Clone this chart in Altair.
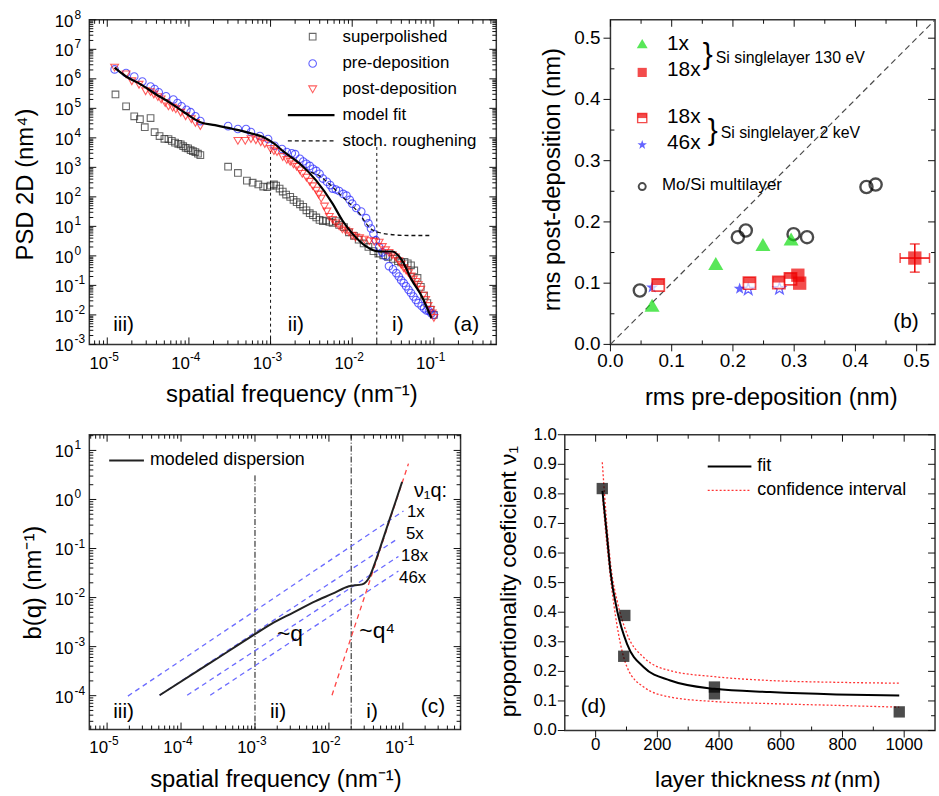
import altair as alt
import pandas as pd

FONT = "Liberation Sans"
INK = "#111111"
RED = "#ff1a1a"
BLUE = "#2222ff"
GREEN = "#11dd11"

# ---------------- panel (a): PSD data ----------------
SP_Q = [1.26e-5, 1.70e-5, 2.14e-5, 2.51e-5, 2.88e-5, 3.39e-5, 3.80e-5, 4.37e-5, 5.01e-5, 5.62e-5,
        6.17e-5, 6.76e-5, 7.41e-5, 7.94e-5, 8.51e-5, 9.12e-5, 9.77e-5, 1.05e-4, 1.12e-4, 1.20e-4,
        1.29e-4, 1.38e-4,
        3.02e-4, 3.98e-4, 5.13e-4, 6.03e-4, 7.08e-4, 8.13e-4, 9.12e-4, 1.00e-3,
        1.10e-3, 1.17e-3, 1.29e-3, 1.41e-3, 1.55e-3, 1.74e-3, 1.91e-3, 2.09e-3, 2.29e-3, 2.51e-3,
        2.75e-3, 3.02e-3, 3.31e-3, 3.63e-3, 3.98e-3, 4.37e-3, 4.79e-3, 5.25e-3, 5.75e-3, 6.31e-3,
        6.92e-3, 7.94e-3, 9.12e-3, 1.05e-2, 1.20e-2, 1.38e-2, 1.58e-2, 1.82e-2, 2.09e-2, 2.40e-2,
        2.75e-2, 3.16e-2, 3.63e-2, 3.98e-2, 4.37e-2, 4.79e-2, 5.25e-2, 5.75e-2, 6.31e-2, 6.92e-2,
        7.59e-2, 8.32e-2, 9.12e-2, 1.00e-1]
SP_PSD = [2.95e5, 1.17e5, 5.37e4, 4.27e4, 2.29e4, 4.68e4, 1.55e4, 1.15e4, 9.3e3, 9.1e3,
          7.9e3, 6.9e3, 6.3e3, 6.0e3, 5.2e3, 4.6e3, 4.4e3, 3.8e3, 3.55e3, 3.3e3,
          2.9e3, 2.6e3,
          1.05e3, 646, 355, 302, 263, 224, 214, 240,
          263, 240, 191, 151, 120, 100, 79, 66, 56, 46,
          35, 28, 24, 20, 16.6, 15.1, 15.8, 14.1, 13.2, 15.1,
          11.2, 9.5, 6.3, 4.8, 3.55, 2.63, 2.0, 1.45, 1.2, 1.05,
          0.93, 0.79, 0.66, 0.60, 0.63, 0.56, 0.48, 0.32, 0.178, 0.089,
          0.045, 0.025, 0.0151, 0.010]

PRE_Q = [1.23e-5, 1.70e-5, 2.14e-5, 2.69e-5, 3.39e-5, 3.80e-5, 4.27e-5, 5.25e-5, 6.46e-5, 7.24e-5,
         8.13e-5, 9.33e-5, 1.05e-4, 1.20e-4, 1.38e-4,
         3.02e-4, 3.98e-4, 5.01e-4, 5.75e-4, 7.41e-4, 9.33e-4, 1.12e-3, 1.38e-3, 1.58e-3, 1.82e-3,
         2.0e-3, 2.29e-3, 2.51e-3, 2.75e-3, 3.02e-3, 3.31e-3, 3.63e-3, 3.98e-3, 4.37e-3, 4.9e-3,
         5.37e-3, 5.75e-3, 6.31e-3, 6.92e-3, 7.76e-3, 8.51e-3, 9.33e-3, 1.0e-2, 1.12e-2, 1.29e-2,
         1.48e-2, 1.58e-2, 1.70e-2, 1.82e-2, 1.95e-2, 2.14e-2, 2.34e-2, 2.57e-2, 2.82e-2, 3.16e-2,
         3.47e-2, 3.72e-2, 3.98e-2, 4.27e-2, 4.57e-2, 4.9e-2, 5.25e-2, 5.62e-2, 6.03e-2, 6.46e-2,
         7.08e-2, 7.59e-2, 8.13e-2, 8.71e-2, 9.33e-2, 1.0e-1]
PRE_PSD = [2.09e6, 1.58e6, 1.20e6, 8.1e5, 5.5e5, 4.5e5, 3.5e5, 2.57e5, 2.0e5, 1.51e5,
           1.17e5, 8.9e4, 7.4e4, 5.4e4, 3.7e4,
           2.5e4, 2.0e4, 2.0e4, 1.58e4, 1.15e4, 9.1e3, 5.4e3, 4.2e3, 3.3e3, 3.0e3,
           2.8e3, 1.95e3, 1.58e3, 1.32e3, 1.12e3, 891, 759, 603, 417, 324,
           251, 191, 178, 158, 126, 110, 79, 59, 42, 32,
           19, 12.6, 8.5, 5.6, 3.4, 2.0, 1.32, 0.98, 0.45, 0.35,
           0.26, 0.20, 0.15, 0.12, 0.093, 0.071, 0.055, 0.042, 0.032, 0.025,
           0.020, 0.0166, 0.0141, 0.0135, 0.0112, 0.010]

POST_Q = [1.23e-5, 1.70e-5, 2.0e-5, 2.45e-5, 2.95e-5, 3.39e-5, 3.72e-5, 4.17e-5, 4.57e-5, 5.13e-5,
          5.62e-5, 6.31e-5, 6.92e-5, 7.94e-5, 9.12e-5, 1.07e-4, 1.20e-4, 1.38e-4,
          3.98e-4, 4.9e-4, 5.75e-4, 6.61e-4, 7.59e-4, 8.51e-4, 1.0e-3, 1.10e-3, 1.20e-3, 1.41e-3,
          1.58e-3, 1.74e-3, 1.91e-3, 2.09e-3, 2.29e-3, 2.45e-3, 2.75e-3, 3.02e-3, 3.31e-3, 3.63e-3,
          3.89e-3, 4.17e-3, 4.57e-3, 4.9e-3, 5.25e-3, 5.75e-3, 6.31e-3, 6.92e-3, 7.59e-3, 8.32e-3,
          9.12e-3, 1.0e-2, 1.10e-2, 1.23e-2, 1.41e-2, 1.62e-2, 1.86e-2, 2.14e-2, 2.34e-2, 2.57e-2,
          2.82e-2, 3.09e-2, 3.39e-2, 3.72e-2, 3.98e-2, 4.27e-2, 4.57e-2, 4.9e-2, 5.25e-2, 5.62e-2,
          6.03e-2, 6.46e-2, 6.92e-2, 7.41e-2, 7.94e-2, 8.51e-2, 9.12e-2, 9.55e-2, 1.0e-1]
POST_PSD = [2.4e6, 1.41e6, 8.3e5, 6.3e5, 3.8e5, 3.55e5, 2.95e5, 2.4e5, 2.0e5, 1.51e5,
            1.17e5, 1.05e5, 9.3e4, 7.1e4, 5.4e4, 4.3e4, 3.2e4, 2.5e4,
            7.9e3, 7.9e3, 9.1e3, 8.3e3, 7.1e3, 6.2e3, 4.2e3, 3.55e3, 3.3e3, 2.24e3,
            1.78e3, 1.55e3, 1.26e3, 1.05e3, 794, 603, 447, 324, 229, 162,
            120, 87, 47, 32, 21, 16.6, 12.6, 10, 7.9, 7.1,
            6.3, 4.8, 4.2, 4.0, 3.55, 3.16, 3.0, 2.8, 2.0, 1.55,
            1.26, 1.05, 0.89, 0.66, 0.50, 0.38, 0.32, 0.26, 0.20, 0.158,
            0.132, 0.102, 0.071, 0.045, 0.032, 0.020, 0.0148, 0.0112, 0.0079]

FIT_Q = [1.23e-5, 1.70e-5, 2.57e-5, 3.98e-5, 6.03e-5, 9.12e-5, 1.38e-4, 2.09e-4, 3.47e-4, 5.62e-4,
         8.13e-4, 1.12e-3, 1.41e-3, 2.29e-3, 3.63e-3, 5.75e-3, 7.59e-3, 1.0e-2, 1.48e-2, 2.14e-2,
         3.09e-2, 4.07e-2, 5.37e-2, 7.08e-2, 9.33e-2]
FIT_PSD = [2.4e6, 1.2e6, 6.5e5, 2.95e5, 1.48e5, 6.8e4, 3.4e4, 2.7e4, 2.0e4, 1.45e4,
           1.07e4, 6.2e3, 3.6e3, 1.32e3, 355, 59, 15.8, 5.8, 2.1, 1.41,
           1.41, 0.71, 0.151, 0.044, 0.0079]

STOCH_Q = [2.29e-3, 2.75e-3, 3.98e-3, 5.25e-3, 6.92e-3, 9.33e-3, 1.23e-2, 1.48e-2, 1.74e-2, 2.14e-2,
           2.82e-2, 3.72e-2, 5.62e-2, 9.33e-2]
STOCH_PSD = [1.32e3, 832, 513, 275, 129, 59, 27, 12.6, 7.8, 6.2, 5.4, 5.0, 4.9, 4.9]

VLINE_A_Q = [1e-3, 2e-2]
VLINE_A_TOP = [3.6e3, 4.9e3]
VLINE_A_BOTTOM = [1e-3, 1e-3]

LEGEND_A = ["superpolished", "pre-deposition", "post-deposition", "model fit", "stoch. roughening"]
REGIONS = ["iii)", "ii)", "i)"]

# ---------------- panel (b): rms data ----------------
MOSI_PRE = [0.048, 0.208, 0.221, 0.299, 0.321, 0.418, 0.433]
MOSI_POST = [0.088, 0.175, 0.186, 0.180, 0.175, 0.257, 0.261]
TRI_PRE = [0.068, 0.172, 0.249, 0.295]
TRI_POST = [0.064, 0.132, 0.163, 0.172]
SQ130_PRE = [0.306, 0.309, 0.497]
SQ130_POST = [0.113, 0.100, 0.141]
ERR_X = [0.024]
ERR_Y = [0.023]
HALF_PRE = [0.078, 0.227, 0.275, 0.294]
HALF_POST = [0.097, 0.100, 0.101, 0.107]
STAR_FILLED_PRE = [0.068, 0.211]
STAR_FILLED_POST = [0.093, 0.091]
STAR_OPEN_PRE = [0.225, 0.276]
STAR_OPEN_POST = [0.090, 0.091]
DIAG = [0.0, 0.53]
LEGEND_B = ["1x", "18x", "18x", "46x", "Mo/Si multilayer"]
GROUPS_B = ["Si singlelayer 130 eV", "Si singlelayer 2 keV"]

# ---------------- panel (c): dispersion ----------------
DISP_Q = [5.13e-5, 2.51e-4, 1.0e-3, 1.78e-3, 3.24e-3, 6.61e-3, 1.12e-2, 1.86e-2, 2.82e-2, 3.47e-2,
          4.27e-2, 5.25e-2, 6.46e-2, 7.94e-2, 9.77e-2]
DISP_B = [1.02e-4, 4.7e-4, 1.8e-3, 3.1e-3, 4.9e-3, 8.5e-3, 1.2e-2, 1.7e-2, 1.86e-2, 2.5e-2,
          5.5e-2, 0.138, 0.355, 0.89, 2.29]
NU_LABELS = ["1x", "5x", "18x", "46x"]
NU_Q0 = [1.91e-5, 5.13e-5, 1.21e-4, 2.48e-4]
NU_B0 = [9.8e-5, 1.02e-4, 1.02e-4, 1.02e-4]
NU_Q1 = [0.102, 8.71e-2, 8.71e-2, 8.71e-2]
NU_B1 = [0.582, 0.162, 6.9e-2, 3.47e-2]
Q4_Q = [1.10e-2, 0.119]
Q4_B = [1.02e-4, 5.37]
VLINE_C_Q = [1e-3, 2e-2]
VLINE_C_TOP = [3.1, 20.9]
VLINE_C_BOTTOM = [2.04e-5, 2.04e-5]

# ---------------- panel (d): coefficient ----------------
NT = [21.5, 94.6, 91.0, 385.0, 385.0, 984.0]
NU1 = [0.818, 0.389, 0.251, 0.147, 0.124, 0.063]
FITD_NT = [22, 37.6, 48, 70, 102, 156, 242, 385, 565, 780, 984]
FITD_NU = [0.81, 0.649, 0.538, 0.404, 0.292, 0.214, 0.169, 0.141, 0.130, 0.122, 0.118]
CIU_NT = [21.5, 37.6, 50, 70, 102, 156, 242, 385, 565, 780, 984]
CIU_NU = [0.907, 0.68, 0.55, 0.437, 0.326, 0.247, 0.202, 0.182, 0.169, 0.163, 0.160]
CIL_NT = [23, 37.6, 59, 80.6, 102, 156, 242, 385, 565, 780, 984]
CIL_NU = [0.78, 0.616, 0.426, 0.292, 0.214, 0.147, 0.113, 0.098, 0.091, 0.085, 0.079]
LEGEND_D = ["fit", "confidence interval"]

# ---------------- axis tick values ----------------
DECADES_X = [1e-5, 1e-4, 1e-3, 1e-2, 1e-1]
A_YMAJ = [1e-3, 1e-2, 1e-1, 1e0, 1e1, 1e2, 1e3, 1e4, 1e5, 1e6, 1e7, 1e8]
C_YMAJ = [1e-4, 1e-3, 1e-2, 1e-1, 1e0, 1e1]
B_MAJ = [0.0, 0.1, 0.2, 0.3, 0.4, 0.5]
B_MIN = [0.05, 0.15, 0.25, 0.35, 0.45]
D_XMAJ = [0, 200, 400, 600, 800, 1000]
D_XMIN = [100, 300, 500, 700, 900]
D_YMAJ = [0.0, 0.1, 0.2, 0.3, 0.4, 0.5, 0.6, 0.7, 0.8, 0.9, 1.0]
D_YMIN = [0.05, 0.15, 0.25, 0.35, 0.45, 0.55, 0.65, 0.75, 0.85, 0.95]

STAR = ("M0,-1L0.235,-0.324L0.951,-0.309L0.380,0.124L0.588,0.809L0,0.4L-0.588,0.809"
        "L-0.380,0.124L-0.951,-0.309L-0.235,-0.324Z")
TOP_HALF = "M-1,-1H1V0H-1Z"
EXPR_EXP = "toString(round(log(datum.v) / LN10))"


def log_minor(lo, hi):
    out = []
    for d in range(-7, 9):
        for k in range(2, 10):
            v = k * 10.0 ** d
            if lo < v < hi:
                out.append(v)
    return out


def ptext(txt, x, y, size, align="left", **kw):
    return alt.Chart(pd.DataFrame({"t": [txt]})).mark_text(
        align=align, baseline="middle", font=FONT, fontSize=size, color="black", **kw
    ).encode(text="t:N", x=alt.value(x), y=alt.value(y))


def psym(x, y, **kw):
    return alt.Chart(pd.DataFrame({"k": [0]})).mark_point(**kw).encode(x=alt.value(x), y=alt.value(y))


def pline(x0, x1, y, **kw):
    return alt.Chart(pd.DataFrame({"k": [0]})).mark_rule(**kw).encode(
        x=alt.value(x0), x2=alt.value(x1), y=alt.value(y))


def spacer(x, y):
    """Invisible 1px white rule that pins the layout bounds of a panel."""
    return pline(x, x + 1, y, color="white", strokeWidth=1)


def frame_ticks(xs, ys, W, H, xmaj, xmin, ymaj, ymin, out_major=False):
    """Tick marks on all four sides of the frame, placed through the scales."""
    layers = []
    for vals, L, is_major in ((xmaj, 7, True), (xmin, 4, False)):
        d = pd.DataFrame({"t": vals})
        bottom = (H, H + L) if (out_major and is_major) else (H, H - L)
        for y0, y1 in (bottom, (0, L)):
            layers.append(alt.Chart(d).mark_rule(color=INK, strokeWidth=1).encode(
                x=alt.X("t:Q", scale=xs, axis=None), y=alt.value(y0), y2=alt.value(y1)))
    for vals, L, is_major in ((ymaj, 7, True), (ymin, 4, False)):
        d = pd.DataFrame({"t": vals})
        left = (0, -L) if (out_major and is_major) else (0, L)
        for x0, x1 in (left, (W, W - L)):
            layers.append(alt.Chart(d).mark_rule(color=INK, strokeWidth=1).encode(
                y=alt.Y("t:Q", scale=ys, axis=None), x=alt.value(x0), x2=alt.value(x1)))
    return layers


def log_xlabels(vals, xs, ypix, fs=17, efs=12):
    base = alt.Chart(pd.DataFrame({"v": vals})).transform_calculate(e=EXPR_EXP)
    return [
        base.mark_text(text="10", align="right", baseline="middle", font=FONT, fontSize=fs,
                       color="black", dx=1).encode(x=alt.X("v:Q", scale=xs, axis=None), y=alt.value(ypix)),
        base.mark_text(align="left", baseline="middle", font=FONT, fontSize=efs, color="black",
                       dx=1).encode(x=alt.X("v:Q", scale=xs, axis=None), y=alt.value(ypix - 7), text="e:N"),
    ]


def log_ylabels(vals, ys, xpix, fs=17, efs=12):
    base = alt.Chart(pd.DataFrame({"v": vals})).transform_calculate(e=EXPR_EXP)
    return [
        base.mark_text(text="10", align="right", baseline="middle", font=FONT, fontSize=fs,
                       color="black", dy=2).encode(y=alt.Y("v:Q", scale=ys, axis=None), x=alt.value(xpix)),
        base.mark_text(align="left", baseline="middle", font=FONT, fontSize=efs, color="black",
                       dy=-5).encode(y=alt.Y("v:Q", scale=ys, axis=None), x=alt.value(xpix + 1), text="e:N"),
    ]


def lin_xlabels(vals, xs, ypix, fmt, fs):
    base = alt.Chart(pd.DataFrame({"v": vals})).transform_calculate(lab=f"format(datum.v, '{fmt}')")
    return [base.mark_text(align="center", baseline="middle", font=FONT, fontSize=fs, color="black").encode(
        x=alt.X("v:Q", scale=xs, axis=None), y=alt.value(ypix), text="lab:N")]


def lin_ylabels(vals, ys, xpix, fmt, fs):
    base = alt.Chart(pd.DataFrame({"v": vals})).transform_calculate(lab=f"format(datum.v, '{fmt}')")
    return [base.mark_text(align="right", baseline="middle", font=FONT, fontSize=fs, color="black").encode(
        y=alt.Y("v:Q", scale=ys, axis=None), x=alt.value(xpix), text="lab:N")]


def ytitle(txt, x, y, size):
    return ptext(txt, x, y, size, align="center", angle=270)


# ======================= panel (a) =======================
WA, HA = 410, 327
xs_a = alt.Scale(type="log", domain=[6.03e-6, 0.582], nice=False)
ys_a = alt.Scale(type="log", domain=[1e-3, 1e8], nice=False)


def XA(f="q:Q"):
    return alt.X(f, scale=xs_a, axis=None)


def YA(f="psd:Q"):
    return alt.Y(f, scale=ys_a, axis=None)


df_sp = pd.DataFrame({"q": SP_Q, "psd": SP_PSD})
df_pre = pd.DataFrame({"q": PRE_Q, "psd": PRE_PSD})
df_post = pd.DataFrame({"q": POST_Q, "psd": POST_PSD})
df_fit = pd.DataFrame({"q": FIT_Q, "psd": FIT_PSD})
df_st = pd.DataFrame({"q": STOCH_Q, "psd": STOCH_PSD})
df_va = pd.DataFrame({"q": VLINE_A_Q, "top": VLINE_A_TOP, "bot": VLINE_A_BOTTOM})

a_layers = [
    spacer(-88, -15), spacer(0, HA + 70),
    alt.Chart(df_sp).mark_point(shape="square", size=45, filled=False, color="#2a2a2a", strokeWidth=1.1).encode(
        x=XA(), y=YA()),
    alt.Chart(df_va).mark_rule(color=INK, strokeWidth=1, strokeDash=[3, 3]).encode(
        x=XA(), y=YA("top:Q"), y2="bot:Q"),
    alt.Chart(df_pre).mark_point(shape="circle", size=58, filled=False, color=BLUE, strokeWidth=1.1).encode(
        x=XA(), y=YA()),
    alt.Chart(df_post).mark_point(shape="triangle-down", size=62, filled=False, color=RED, strokeWidth=1.1).encode(
        x=XA(), y=YA()),
    alt.Chart(df_st).mark_line(color=INK, strokeWidth=1.3, strokeDash=[4, 3], interpolate="monotone").encode(
        x=XA(), y=YA()),
    alt.Chart(df_fit).mark_line(color="black", strokeWidth=2.2, interpolate="monotone").encode(
        x=XA(), y=YA()),
]
a_layers += frame_ticks(xs_a, ys_a, WA, HA, DECADES_X, log_minor(6.03e-6, 0.582), A_YMAJ, log_minor(1e-3, 1e8))
a_layers += log_xlabels(DECADES_X, xs_a, HA + 20)
a_layers += log_ylabels(A_YMAJ, ys_a, -16)
a_layers += [ytitle("PSD 2D (nm\u2074)", -64, 166, 24),
             ptext("spatial frequency (nm\u207b\u00b9)", 204, HA + 51, 24, align="center")]
leg_y = [17, 44, 70, 96, 122]
a_layers += [
    psym(225, leg_y[0], shape="square", size=45, filled=False, color="#2a2a2a", strokeWidth=1.1),
    psym(225, leg_y[1], shape="circle", size=58, filled=False, color=BLUE, strokeWidth=1.1),
    psym(225, leg_y[2], shape="triangle-down", size=62, filled=False, color=RED, strokeWidth=1.1),
    pline(200, 247, leg_y[3], color="black", strokeWidth=2.2),
    pline(200, 247, leg_y[4], color=INK, strokeWidth=1.3, strokeDash=[4, 3]),
]
a_layers += [ptext(t, 255, y, 17) for t, y in zip(LEGEND_A, leg_y)]
a_layers += [ptext(REGIONS[0], 24, 308, 21), ptext(REGIONS[1], 200, 308, 21),
             ptext(REGIONS[2], 305, 308, 21), ptext("(a)", 367, 308, 21)]
panel_a = alt.layer(*a_layers).properties(width=WA, height=HA)

# ======================= panel (b) =======================
WB, HB = 327, 327
xs_b = alt.Scale(domain=[0, 0.53], nice=False, zero=False)
ys_b = alt.Scale(domain=[0, 0.53], nice=False, zero=False)


def XB(f="x:Q"):
    return alt.X(f, scale=xs_b, axis=None)


def YB(f="y:Q"):
    return alt.Y(f, scale=ys_b, axis=None)


df_diag = pd.DataFrame({"x": DIAG, "y": DIAG})
df_mosi = pd.DataFrame({"x": MOSI_PRE, "y": MOSI_POST})
df_tri = pd.DataFrame({"x": TRI_PRE, "y": TRI_POST})
df_sq = pd.DataFrame({"x": SQ130_PRE, "y": SQ130_POST})
df_half = pd.DataFrame({"x": HALF_PRE, "y": HALF_POST})
df_sf = pd.DataFrame({"x": STAR_FILLED_PRE, "y": STAR_FILLED_POST})
df_so = pd.DataFrame({"x": STAR_OPEN_PRE, "y": STAR_OPEN_POST})
df_err = pd.DataFrame({"x": [SQ130_PRE[-1]], "y": [SQ130_POST[-1]], "ex": ERR_X, "ey": ERR_Y})

err_base = alt.Chart(df_err).transform_calculate(
    xlo="datum.x - datum.ex", xhi="datum.x + datum.ex",
    ylo="datum.y - datum.ey", yhi="datum.y + datum.ey")
ERR_RED = "#ee0000"

b_layers = [
    spacer(-75, 0),
    alt.Chart(df_diag).mark_line(color="#4a4a4a", strokeWidth=1.2, strokeDash=[6, 4]).encode(x=XB(), y=YB()),
    alt.Chart(df_mosi).mark_point(shape="circle", size=150, filled=False, color="black", strokeWidth=2.4).encode(
        x=XB(), y=YB()),
    alt.Chart(df_sf).mark_point(shape=STAR, size=160, filled=True, color=BLUE).encode(x=XB(), y=YB()),
    alt.Chart(df_so).mark_point(shape=STAR, size=160, filled=False, color=BLUE, strokeWidth=1.3).encode(
        x=XB(), y=YB()),
    alt.Chart(df_half).mark_square(size=150, fill="white", stroke=ERR_RED, strokeWidth=1.7).encode(
        x=XB(), y=YB()),
    alt.Chart(df_half).mark_point(shape=TOP_HALF, size=150, filled=True, color=ERR_RED).encode(
        x=XB(), y=YB()),
    alt.Chart(df_tri).mark_point(shape="triangle-up", size=230, filled=True, color=GREEN).encode(
        x=XB(), y=YB()),
    err_base.mark_rule(color=ERR_RED, strokeWidth=1.5).encode(x=XB("xlo:Q"), x2="xhi:Q", y=YB()),
    err_base.mark_rule(color=ERR_RED, strokeWidth=1.5).encode(x=XB(), y=YB("ylo:Q"), y2="yhi:Q"),
    err_base.mark_tick(color=ERR_RED, orient="vertical", size=10, thickness=1.5).encode(x=XB("xlo:Q"), y=YB()),
    err_base.mark_tick(color=ERR_RED, orient="vertical", size=10, thickness=1.5).encode(x=XB("xhi:Q"), y=YB()),
    err_base.mark_tick(color=ERR_RED, orient="horizontal", size=10, thickness=1.5).encode(x=XB(), y=YB("ylo:Q")),
    err_base.mark_tick(color=ERR_RED, orient="horizontal", size=10, thickness=1.5).encode(x=XB(), y=YB("yhi:Q")),
    alt.Chart(df_sq).mark_square(size=180, color=ERR_RED).encode(x=XB(), y=YB()),
]
b_layers += frame_ticks(xs_b, ys_b, WB, HB, B_MAJ, B_MIN, B_MAJ, B_MIN, out_major=True)
b_layers += lin_xlabels(B_MAJ, xs_b, HB + 17, ".1f", 19)
b_layers += lin_ylabels(B_MAJ, ys_b, -10, ".1f", 19)
b_layers += [ytitle("rms post-deposition (nm)", -58, 161, 24),
             ptext("rms pre-deposition (nm)", 162, HB + 54, 24, align="center")]
b_layers += [
    psym(32, 24, shape="triangle-up", size=120, filled=True, color=GREEN),
    psym(32, 53, shape="square", size=85, filled=True, color=ERR_RED),
    alt.Chart(pd.DataFrame({"k": [0]})).mark_square(size=85, fill="white", stroke=ERR_RED, strokeWidth=1.4).encode(
        x=alt.value(32), y=alt.value(99)),
    psym(32, 99, shape=TOP_HALF, size=85, filled=True, color=ERR_RED),
    psym(32, 126, shape=STAR, size=100, filled=True, color=BLUE),
    psym(32, 168, shape="circle", size=50, filled=False, color="black", strokeWidth=2),
    ptext(LEGEND_B[0], 57, 24, 21), ptext(LEGEND_B[1], 57, 51, 21),
    ptext(LEGEND_B[2], 57, 98, 21), ptext(LEGEND_B[3], 57, 124, 21),
    ptext(LEGEND_B[4], 52, 166, 17),
    ptext("}", 93, 36, 30), ptext(GROUPS_B[0], 106, 38, 16),
    ptext("}", 98, 112, 30), ptext(GROUPS_B[1], 111, 114, 16),
    ptext("(b)", 285, 304, 21),
]
panel_b = alt.layer(*b_layers).properties(width=WB, height=HB)

# ======================= panel (c) =======================
WC, HC = 374, 297
xs_c = alt.Scale(type="log", domain=[5.75e-6, 0.603], nice=False)
ys_c = alt.Scale(type="log", domain=[2.04e-5, 20.9], nice=False)


def XC(f="q:Q"):
    return alt.X(f, scale=xs_c, axis=None)


def YC(f="b:Q"):
    return alt.Y(f, scale=ys_c, axis=None)


df_nu = pd.DataFrame({"q0": NU_Q0, "b0": NU_B0, "q1": NU_Q1, "b1": NU_B1, "lab": NU_LABELS})
df_q4 = pd.DataFrame({"q": Q4_Q, "b": Q4_B})
df_disp = pd.DataFrame({"q": DISP_Q, "b": DISP_B})
df_vc = pd.DataFrame({"q": VLINE_C_Q, "top": VLINE_C_TOP, "bot": VLINE_C_BOTTOM})

c_layers = [
    spacer(-88, 0), spacer(0, -12),
    alt.Chart(df_vc).mark_rule(color=INK, strokeWidth=1, strokeDash=[6, 2, 1, 2]).encode(
        x=XC(), y=YC("top:Q"), y2="bot:Q"),
    alt.Chart(df_nu).mark_rule(color="#6a6aff", strokeWidth=1.3, strokeDash=[5, 4]).encode(
        x=XC("q0:Q"), y=YC("b0:Q"), x2="q1:Q", y2="b1:Q"),
    alt.Chart(df_q4).mark_line(color="#ff4444", strokeWidth=1.3, strokeDash=[5, 4]).encode(x=XC(), y=YC()),
    alt.Chart(df_disp).mark_line(color="#222222", strokeWidth=2, interpolate="monotone").encode(x=XC(), y=YC()),
]
c_layers += frame_ticks(xs_c, ys_c, WC, HC, DECADES_X, log_minor(5.75e-6, 0.603), C_YMAJ,
                        log_minor(2.04e-5, 20.9))
c_layers += log_xlabels(DECADES_X, xs_c, HC + 19)
c_layers += log_ylabels(C_YMAJ, ys_c, -16)
c_layers += [
    ytitle("b(q) (nm\u207b\u00b9)", -56, 149, 24),
    ptext("spatial frequency (nm\u207b\u00b9)", 188, HC + 51, 24, align="center"),
    pline(20, 55, 26, color="#222222", strokeWidth=2),
    ptext("modeled dispersion", 61, 26, 18),
    ptext("\u03bd\u2081q:", 327, 57, 20),
    ptext(NU_LABELS[0], 320, 78, 17), ptext(NU_LABELS[1], 319, 100, 17),
    ptext(NU_LABELS[2], 314, 122, 17), ptext(NU_LABELS[3], 312, 144, 17),
    ptext("~q", 189, 201, 23), ptext("~q\u2074", 272, 198, 23),
    ptext(REGIONS[0], 24, 279, 21), ptext(REGIONS[1], 182, 279, 21),
    ptext(REGIONS[2], 279, 279, 21), ptext("(c)", 334, 274, 21),
]
panel_c = alt.layer(*c_layers).properties(width=WC, height=HC)

# ======================= panel (d) =======================
WD, HD = 373, 298
xs_d = alt.Scale(domain=[-100, 1100], nice=False, zero=False)
ys_d = alt.Scale(domain=[0, 1], nice=False, zero=False)


def XD(f="nt:Q"):
    return alt.X(f, scale=xs_d, axis=None)


def YD(f="nu:Q"):
    return alt.Y(f, scale=ys_d, axis=None)


df_pts = pd.DataFrame({"nt": NT, "nu": NU1})
df_fitd = pd.DataFrame({"nt": FITD_NT, "nu": FITD_NU})
df_ciu = pd.DataFrame({"nt": CIU_NT, "nu": CIU_NU})
df_cil = pd.DataFrame({"nt": CIL_NT, "nu": CIL_NU})

d_layers = [
    spacer(-75, 0), spacer(0, -12),
    alt.Chart(df_ciu).mark_line(color="#ff3333", strokeWidth=1.3, strokeDash=[2, 2], interpolate="monotone").encode(
        x=XD(), y=YD()),
    alt.Chart(df_cil).mark_line(color="#ff3333", strokeWidth=1.3, strokeDash=[2, 2], interpolate="monotone").encode(
        x=XD(), y=YD()),
    alt.Chart(df_fitd).mark_line(color="black", strokeWidth=2, interpolate="monotone").encode(x=XD(), y=YD()),
    alt.Chart(df_pts).mark_square(size=130, color="black").encode(x=XD(), y=YD()),
]
d_layers += frame_ticks(xs_d, ys_d, WD, HD, D_XMAJ, D_XMIN, D_YMAJ, D_YMIN, out_major=True)
d_layers += lin_xlabels(D_XMAJ, xs_d, HD + 15, "d", 17)
d_layers += lin_ylabels(D_YMAJ, ys_d, -8, ".1f", 17)
d_layers += [
    ytitle("proportionality coeficient \u03bd\u2081", -56, 148, 23),
    ptext("layer thickness", 243, HD + 50, 23, align="right"),
    ptext("nt", 248, HD + 50, 23, fontStyle="italic"),
    ptext("(nm)", 271, HD + 50, 23),
    pline(144, 188, 32, color="black", strokeWidth=2),
    pline(144, 188, 56, color="#ff3333", strokeWidth=1.3, strokeDash=[2, 2]),
    ptext(LEGEND_D[0], 194, 32, 18), ptext(LEGEND_D[1], 194, 56, 18),
    ptext("(d)", 16, 274, 21),
]
panel_d = alt.layer(*d_layers).properties(width=WD, height=HD)

row1 = alt.hconcat(panel_a, panel_b, spacing=36)
row2 = alt.hconcat(panel_c, panel_d, spacing=26)
chart = alt.vconcat(row1, row2, spacing=5).properties(
    padding={"left": 0, "top": 0, "right": 0, "bottom": 0}, background="white"
).configure_view(stroke="#333333", strokeWidth=1.5)

chart.save("out.html", embed_options={"renderer": "svg", "actions": False})
